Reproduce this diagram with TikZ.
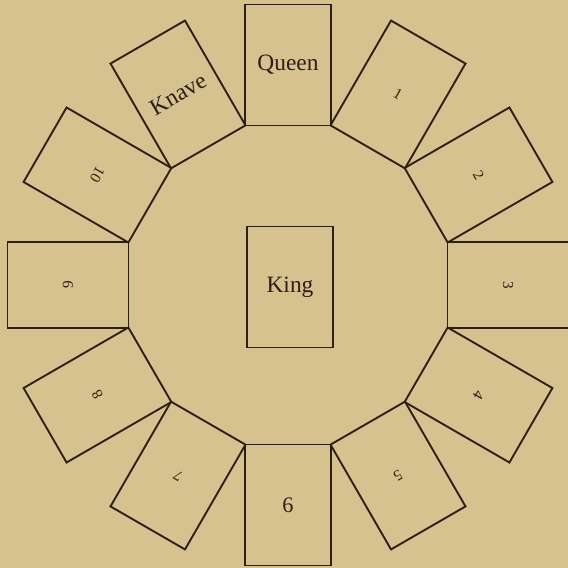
\documentclass[tikz,border=0pt]{standalone}
\usepackage{fontspec}
\setmainfont{Liberation Serif}
\usepackage{tikz}
\usetikzlibrary{positioning}

\definecolor{paper}{RGB}{214,194,143}
\definecolor{ink}{RGB}{45,30,18}

\begin{document}
\begin{tikzpicture}[x=0.3mm, y=0.3mm,
  card/.style={draw=ink, line width=1.6pt, rectangle, inner sep=0pt,
    minimum width=25.8mm, minimum height=36.3mm, text=ink}]
\pgfmathsetmacro{\cx}{288}
\pgfmathsetmacro{\cy}{283}
\pgfmathsetmacro{\rad}{220}

% Paper
\fill[paper] (0,0) rectangle (568,568);
\useasboundingbox (0,0) rectangle (568,568);

% Centre card
\coordinate (ctr) at (\cx,\cy);
\node[card, font=\fontsize{20}{22}\selectfont] (king) at (290,281) {King};

% Ring of twelve cards, clockwise from the top
\begin{scope}[shift={(ctr)}]
\foreach \n/\ang/\rot/\fs/\lab in {
  12/90/0/20/Queen,
  1/60/-30/13/1,
  2/30/-60/13/2,
  3/0/-90/13/3,
  4/-30/-120/13/4,
  5/-60/-150/13/5,
  6/-90/0/19/6,
  7/-120/150/13/7,
  8/-150/120/13/8,
  9/180/90/13/9,
  10/150/240/13/10,
  11/120/30/20/Knave%
} {
  \node[card, rotate=\rot, font=\fontsize{\fs}{\fs}\selectfont] (card\n) at (\ang:\rad) {\lab};
}
\end{scope}

\end{tikzpicture}
\end{document}
